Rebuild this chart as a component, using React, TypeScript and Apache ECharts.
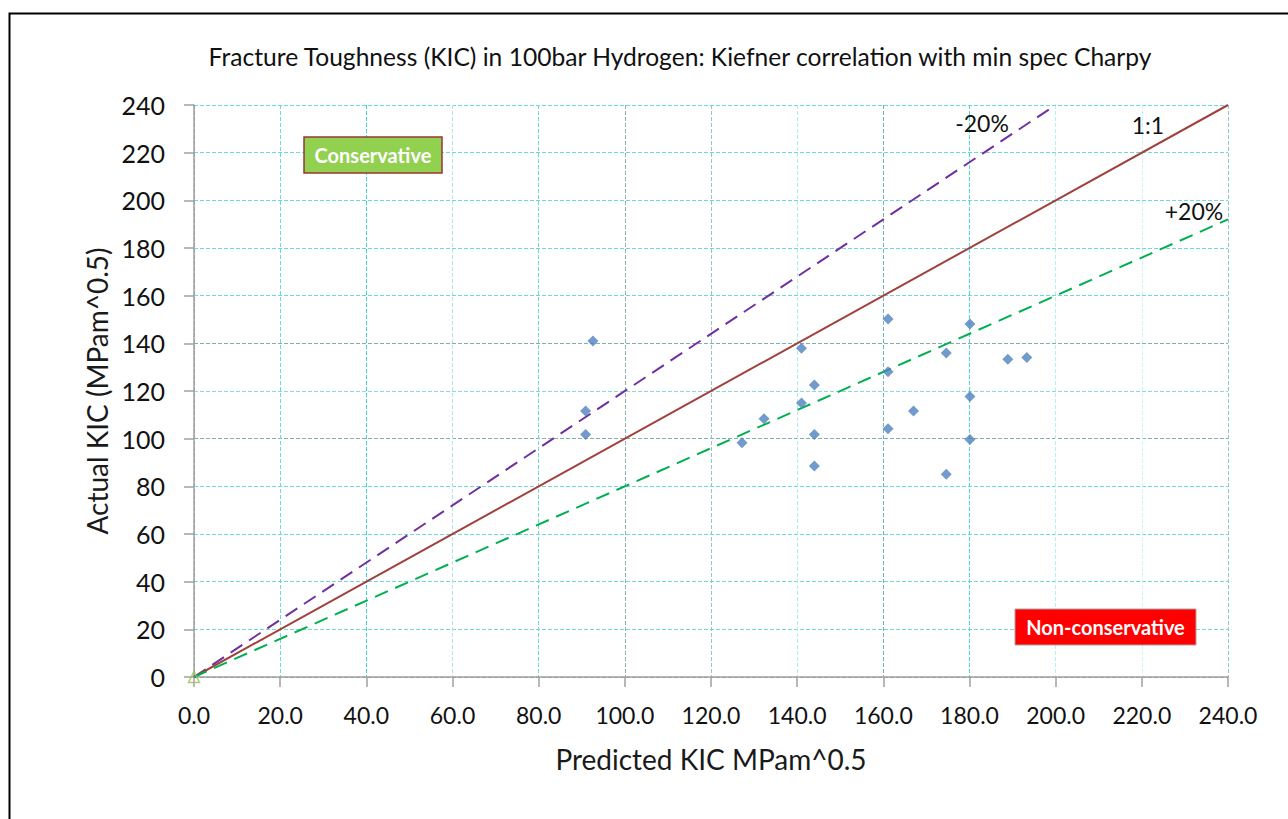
import React, { useEffect, useRef } from "react";
import * as echarts from "echarts";

const titleText =
  "Fracture Toughness (KIC) in 100bar Hydrogen: Kiefner correlation with min spec Charpy";
const xAxisName = "Predicted KIC MPam^0.5";
const yAxisName = "Actual KIC (MPam^0.5)";

// Measured points: [predicted, actual]
const measured: number[][] = [
  [92.6, 141.0],
  [90.9, 111.6],
  [90.9, 101.8],
  [127.2, 98.3],
  [132.3, 108.4],
  [141.0, 137.9],
  [141.0, 115.0],
  [144.0, 122.5],
  [144.0, 101.8],
  [144.0, 88.5],
  [161.1, 150.2],
  [161.1, 128.1],
  [161.1, 104.2],
  [167.0, 111.6],
  [174.6, 135.9],
  [174.6, 85.1],
  [180.1, 148.1],
  [180.1, 117.7],
  [180.1, 99.7],
  [188.9, 133.3],
  [193.3, 134.1],
];

const lineOneToOne: number[][] = [
  [0, 0],
  [240, 240],
];
const lineMinus20: number[][] = [
  [0, 0],
  [200, 240],
];
const linePlus20: number[][] = [
  [0, 0],
  [240, 192],
];
const originMarker: number[][] = [[0, 0]];

const xGridColors = [
  "#9a9a9a", "#6fd8d8", "#3ed3d3", "#b0e6e6", "#6fd8d8", "#8ab4b4", "#8cc8c8",
  "#b0ecec", "#70b8b8", "#50d8d8", "#b8f0f0", "#c8f4f4", "#8cc8c8",
];
const yGridColors = [
  "#9a9a9a", "#6fd8d8", "#6fd8d8", "#6fd8d8", "#6fd8d8", "#7fb0b0", "#8adada",
  "#7fb0b0", "#6fd8d8", "#6fd8d8", "#6fd8d8", "#6fd8d8", "#6fd8d8",
];

const FONT = "Lato, 'Noto Sans', sans-serif";

export default function App() {
  const ref = useRef<HTMLDivElement>(null);

  useEffect(() => {
    if (!ref.current) return;
    const chart = echarts.init(ref.current, null, { renderer: "svg" });
    chart.setOption({
      animation: false,
      backgroundColor: "#ffffff",
      textStyle: { fontFamily: FONT },
      grid: { left: 194, right: 60, top: 105, bottom: 142, containLabel: false },
      xAxis: {
        type: "value",
        min: 0,
        max: 240,
        interval: 20,
        name: xAxisName,
        nameLocation: "middle",
        nameGap: 68,
        nameTextStyle: { fontSize: 28, color: "#1a1a1a", fontFamily: FONT },
        axisLine: { show: true, onZero: false, lineStyle: { color: "#a0a0a0", width: 1.5 } },
        axisTick: { show: true, length: 10, lineStyle: { color: "#a0a0a0", width: 1.5 } },
        axisLabel: {
          fontSize: 23,
          color: "#111",
          margin: 26,
          fontFamily: FONT,
          formatter: (v: number) => v.toFixed(1),
        },
        splitLine: {
          show: true,
          lineStyle: { color: xGridColors, type: [4, 2], width: 1 },
        },
      },
      yAxis: {
        type: "value",
        min: 0,
        max: 240,
        interval: 20,
        name: yAxisName,
        nameLocation: "middle",
        nameGap: 82,
        nameRotate: 90,
        nameTextStyle: { fontSize: 28, color: "#1a1a1a", fontFamily: FONT },
        axisLine: { show: true, onZero: false, lineStyle: { color: "#a0a0a0", width: 1.5 } },
        axisTick: { show: true, length: 10, lineStyle: { color: "#a0a0a0", width: 1.5 } },
        axisLabel: { fontSize: 25, color: "#111", margin: 29, fontFamily: FONT },
        splitLine: {
          show: true,
          lineStyle: { color: yGridColors, type: [4, 2], width: 1 },
        },
      },
      series: [
        {
          type: "line",
          data: lineMinus20,
          symbol: "none",
          lineStyle: { color: "#7030a0", width: 2, type: [14, 8] },
          z: 3,
        },
        {
          type: "line",
          data: lineOneToOne,
          symbol: "none",
          lineStyle: { color: "#a0413c", width: 2 },
          z: 3,
        },
        {
          type: "line",
          data: linePlus20,
          symbol: "none",
          lineStyle: { color: "#00b050", width: 2, type: [14, 8] },
          z: 3,
        },
        {
          type: "scatter",
          data: originMarker,
          symbol: "triangle",
          symbolSize: 11,
          itemStyle: { color: "rgba(255,255,255,0)", borderColor: "#9bbb59", borderWidth: 1.5 },
          z: 4,
        },
        {
          type: "scatter",
          data: measured,
          symbol: "diamond",
          symbolSize: 11,
          itemStyle: { color: "#4f81bd" },
          z: 5,
        },
      ],
      graphic: {
        elements: [
          {
            type: "rect",
            left: 7,
            top: 11,
            z: 100,
            shape: { width: 1300, height: 830 },
            style: { fill: "none", stroke: "#000", lineWidth: 2 },
            silent: true,
          },
          {
            type: "text",
            x: 680,
            y: 56,
            z: 100,
            style: {
              text: titleText,
              fontSize: 24.6,
              fontFamily: FONT,
              fill: "#111",
              align: "center",
              verticalAlign: "middle",
            },
          },
          {
            type: "text",
            x: 982,
            y: 123,
            z: 100,
            style: { text: "-20%", fontSize: 23, fontFamily: FONT, fill: "#111", align: "center", verticalAlign: "middle" },
          },
          {
            type: "text",
            x: 1148,
            y: 125,
            z: 100,
            style: { text: "1:1", fontSize: 23, fontFamily: FONT, fill: "#111", align: "center", verticalAlign: "middle" },
          },
          {
            type: "text",
            x: 1194,
            y: 211,
            z: 100,
            style: { text: "+20%", fontSize: 23, fontFamily: FONT, fill: "#111", align: "center", verticalAlign: "middle" },
          },
          {
            type: "rect",
            z: 100,
            shape: { x: 304, y: 137, width: 138, height: 36 },
            style: { fill: "#92d050", stroke: "#953735", lineWidth: 1.5 },
          },
          {
            type: "text",
            x: 373,
            y: 155,
            z: 101,
            style: {
              text: "Conservative",
              fontSize: 20,
              fontWeight: "bold",
              fontFamily: FONT,
              fill: "#ffffff",
              align: "center",
              verticalAlign: "middle",
            },
          },
          {
            type: "rect",
            z: 100,
            shape: { x: 1015, y: 609, width: 181, height: 36 },
            style: { fill: "#ff0000", stroke: "#b0a0a0", lineWidth: 1 },
          },
          {
            type: "text",
            x: 1105.5,
            y: 627,
            z: 101,
            style: {
              text: "Non-conservative",
              fontSize: 20,
              fontWeight: "bold",
              fontFamily: FONT,
              fill: "#ffffff",
              align: "center",
              verticalAlign: "middle",
            },
          },
        ],
      },
    });
    return () => chart.dispose();
  }, []);

  return (
    <div
      ref={ref}
      style={{ position: "fixed", left: 0, top: 0, width: 1288, height: 819 }}
    />
  );
}
